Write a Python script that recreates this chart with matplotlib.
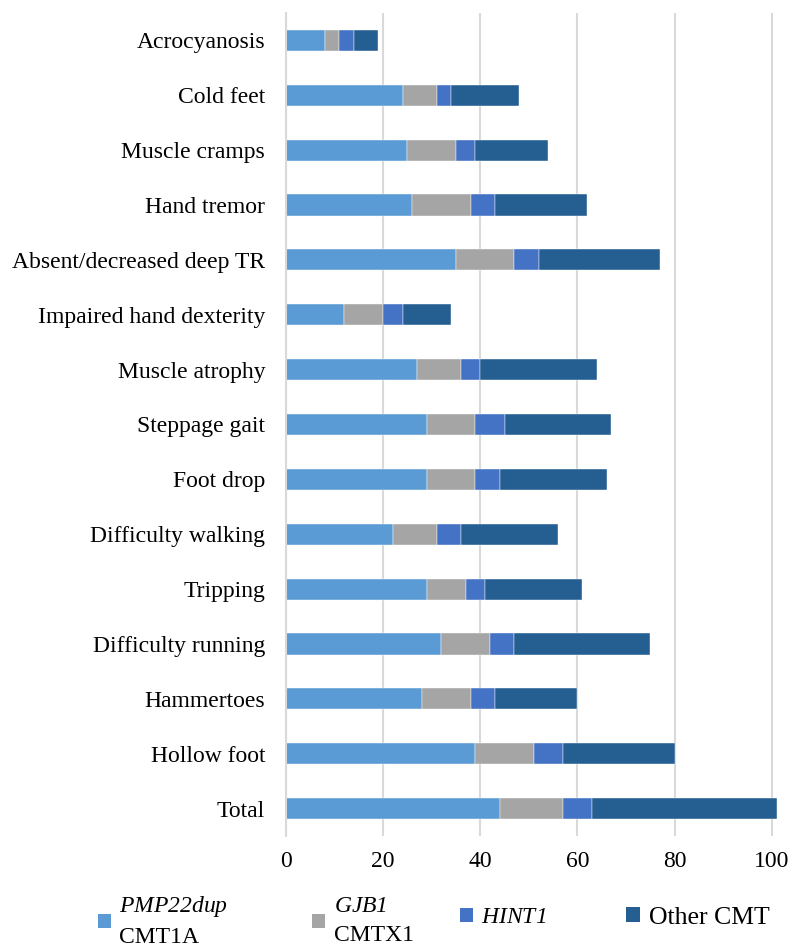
import matplotlib
matplotlib.use('Agg')
import matplotlib.pyplot as plt
import numpy as np
from matplotlib.patches import Patch

plt.rcParams['font.family'] = ['Liberation Serif', 'DejaVu Serif']
# math text is only used for the gene names, which are fully italic (digits too)
plt.rcParams['mathtext.fontset'] = 'custom'
plt.rcParams['mathtext.rm'] = 'Liberation Serif:italic'
plt.rcParams['mathtext.it'] = 'Liberation Serif:italic'

symptoms = ['Acrocyanosis', 'Cold feet', 'Muscle cramps', 'Hand tremor',
            'Absent/decreased deep TR', 'Impaired hand dexterity', 'Muscle atrophy',
            'Steppage gait', 'Foot drop', 'Difficulty walking', 'Tripping',
            'Difficulty running', 'Hammertoes', 'Hollow foot', 'Total']
pmp22 = [8, 24, 25, 26, 35, 12, 27, 29, 29, 22, 29, 32, 28, 39, 44]
gjb1 = [3, 7, 10, 12, 12, 8, 9, 10, 10, 9, 8, 10, 10, 12, 13]
hint1 = [3, 3, 4, 5, 5, 4, 4, 6, 5, 5, 4, 5, 5, 6, 6]
other = [5, 14, 15, 19, 25, 10, 24, 22, 22, 20, 20, 28, 17, 23, 38]

series = [pmp22, gjb1, hint1, other]
colors = ['#5B9BD5', '#A5A5A5', '#4472C4', '#255E91']

fig = plt.figure(figsize=(7.94, 9.49), dpi=100)
ax = fig.add_axes([0.3602, 0.1191, 0.621, 0.8672])

y = np.arange(len(symptoms))
left = np.zeros(len(symptoms))
for vals, col in zip(series, colors):
    ax.barh(y, vals, left=left, height=0.385, color=col, edgecolor='white', linewidth=0.3)
    left += np.array(vals)

ax.set_ylim(len(symptoms) - 0.5, -0.5)
ax.set_xlim(0, 101.5)
ax.set_xticks([0, 20, 40, 60, 80, 100])
ax.set_yticks(y)
ax.set_yticklabels(symptoms)
ax.grid(axis='x', color='#D9D9D9', linewidth=1.5)
ax.set_axisbelow(True)
for s in ['top', 'right', 'bottom']:
    ax.spines[s].set_visible(False)
ax.spines['left'].set_color('#D9D9D9')
ax.spines['left'].set_linewidth(1.5)
ax.tick_params(axis='both', length=0, labelsize=17)
ax.tick_params(axis='y', pad=15)
ax.tick_params(axis='x', pad=11)

# legend entries, one per group, along the bottom
entries = [(r'$PMP22dup$' + '\nCMT1A', colors[0], 0.1234, 17),
           (r'$GJB1$' + '\nCMTX1', colors[1], 0.393, 17),
           (r'$HINT1$', colors[2], 0.579, 17),
           ('Other CMT', colors[3], 0.788, 18.5)]
for label, col, xpos, fs in entries:
    yc = 0.029 if '\n' in label else 0.033
    leg = fig.legend(handles=[Patch(facecolor=col)], labels=[label],
                     loc='center left', bbox_to_anchor=(xpos, yc),
                     frameon=False, fontsize=fs, handlelength=0.56, handleheight=0.56,
                     handletextpad=0.35, borderpad=0, borderaxespad=0)
    for t in leg.get_texts():
        t.set_linespacing(1.5)

fig.savefig('out.png', dpi=100)
